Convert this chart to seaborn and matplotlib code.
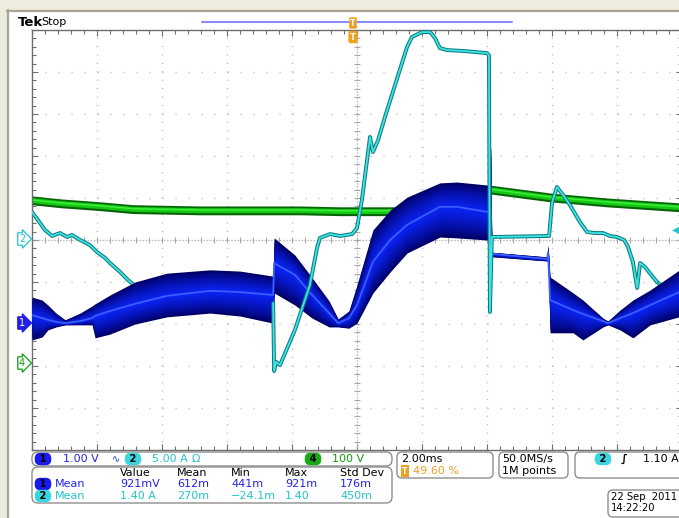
import numpy as np
import matplotlib
matplotlib.use("Agg")
import matplotlib.pyplot as plt
import matplotlib.transforms as mtransforms
from matplotlib.patches import FancyBboxPatch, Rectangle
from matplotlib.lines import Line2D
from matplotlib.ticker import MultipleLocator, NullFormatter
from matplotlib.colors import to_rgb
import seaborn as sns

# ---------------- acquisition settings ----------------
MS_PER_DIV = 2.00
CH1_V_PER_DIV, CH1_OFFSET = 1.00, -2.00     # ground marker 2 div below centre
CH2_A_PER_DIV, CH2_OFFSET = 5.00, 0.00
CH4_V_PER_DIV, CH4_OFFSET = 100.0, -2.93

# ---------------- channel 1 (V): min / mean / max of the rippled trace ----------------
ch1_t = [-10.0, -9.69, -9.51, -9.26, -8.98, -8.52, -8.15, -8.06, -7.60, -6.83, -5.85, -4.52, -3.60, -2.58,
         -2.55, -1.91, -1.38, -0.86, -0.58, -0.25, 0.00, 0.49, 1.02, 1.54, 2.55, 3.08, 4.00, 4.06,
         4.09, 4.12, 4.15, 5.85, 5.88, 5.94, 6.65, 6.95, 7.57, 7.72, 8.09, 8.49, 9.02, 10.0]
ch1_max = [0.64, 0.57, 0.45, 0.26, 0.10, 0.26, 0.43, 0.48, 0.69, 1.00, 1.21, 1.29, 1.26, 1.14,
           2.05, 1.64, 1.10, 0.55, 0.12, 0.31, 0.93, 2.24, 2.71, 3.02, 3.36, 3.38, 3.31, 3.31,
           4.31, 4.14, 1.71, 1.60, 1.88, 1.12, 0.74, 0.57, 0.14, 0.07, 0.33, 0.57, 0.81, 1.33]
ch1_mid = [0.21, 0.14, 0.10, 0.05, 0.02, 0.07, 0.14, 0.19, 0.31, 0.48, 0.67, 0.79, 0.76, 0.69,
           1.45, 1.17, 0.69, 0.26, 0.02, 0.14, 0.45, 1.48, 2.00, 2.36, 2.79, 2.79, 2.67, 2.67,
           2.95, 2.45, 1.67, 1.55, 1.71, 0.57, 0.33, 0.24, 0.07, 0.02, 0.14, 0.26, 0.45, 0.79]
ch1_min = [-0.38, -0.31, -0.14, -0.07, -0.02, -0.02, -0.02, -0.33, -0.24, 0.00, 0.17, 0.26, 0.19, 0.02,
           0.74, 0.45, 0.14, -0.07, -0.07, -0.10, 0.02, 0.74, 1.24, 1.69, 2.07, 2.05, 2.00, 2.00,
           1.64, 1.57, 1.60, 1.50, 1.48, -0.21, -0.21, -0.38, -0.07, -0.02, -0.14, -0.33, -0.02, 0.19]

# ---------------- channel 2 (A): current ----------------
ch2_t = [-10.0, -9.82, -9.60, -9.38, -9.14, -8.92, -8.77, -8.52, -8.22, -8.00, -7.75, -7.60, -7.29, -7.05,
         -6.68, -5.75, -3.91, -2.58,
         -2.55, -2.49, -2.37, -1.91, -1.45, -1.23, -1.14, -0.83, -0.52, -0.15, 0.00, 0.15, 0.31, 0.40,
         0.49, 0.65, 0.86, 1.17, 1.54, 1.69, 2.00, 2.25, 2.40, 2.55, 2.77, 3.32, 4.00, 4.06,
         4.09, 4.15, 5.91, 6.00, 6.15, 6.34, 6.55, 6.86, 7.08, 7.32, 7.57, 7.78, 8.00, 8.22, 8.34,
         8.49, 8.62, 8.71, 8.86, 9.08, 9.23, 9.91]
ch2_amps = [3.33, 2.38, 1.19, 0.48, 0.83, 0.36, 0.60, 0.00, -0.60, -1.43, -2.14, -2.74, -3.81, -4.76,
            -5.95, -7.14, -7.50, -7.50,
            -15.6, -14.5, -14.9, -10.7, -5.36, -0.95, 0.24, 0.71, 0.48, 0.71, 1.43, 4.76, 9.52, 12.26,
            10.47, 11.90, 14.64, 18.45, 22.97, 24.16, 24.75, 24.75, 24.04, 22.85, 22.61, 22.49, 22.25, 22.00,
            -8.57, 0.36, 0.48, 4.40, 6.31, 5.36, 4.17, 2.14, 0.95, 0.83, 0.83, 0.48, 0.36, 0.00, -0.83,
            -2.62, -5.71, -2.74, -3.21, -4.28, -5.00, -7.14]
CH2_HIDDEN_BEFORE, CH2_HIDDEN_AFTER = -2.58, 9.23   # stretches lying under the channel 1 trace

# ---------------- channel 4 (V): bus voltage ----------------
ch4_t = [-10.0, -9.14, -7.91, -6.89, -4.83, -1.75, -0.52, 1.32, 2.25, 3.17, 4.06, 5.94, 7.69, 10.0]
ch4_volts = [388, 381, 374, 367, 364, 364, 362, 362, 376, 398, 414, 395, 383, 371]

# ---------------- readouts ----------------
meas_cols = ["Value", "Mean", "Min", "Max", "Std Dev"]
meas_ch1 = ["921mV", "612m", "441m", "921m", "176m"]
meas_ch2 = ["1.40 A", "270m", "\u221224.1m", "1.40", "450m"]

BLUE_TXT, CYAN_TXT, GREEN_TXT, ORANGE = "#2323e6", "#22c4cc", "#109e10", "#f0a020"

sns.set_theme(style="white")
plt.rcParams["font.family"] = ["DejaVu Sans"]
plt.rcParams["lines.scale_dashes"] = False

W, H = 679, 518
fig = plt.figure(figsize=(W / 100, H / 100), dpi=100)
fig.patch.set_facecolor("white")
pxT = mtransforms.Affine2D().scale(1, -1).translate(0, H)   # pixel coords, origin top-left

# window frame
fig.add_artist(Rectangle((0, 0), W, 10, transform=pxT, fc="#eeebdf", ec="none"))
fig.add_artist(Rectangle((0, 0), 7, H, transform=pxT, fc="#eeebdf", ec="none"))
fig.add_artist(Line2D([7, W], [10.5, 10.5], transform=pxT, color="#a8a692", lw=1.6))
fig.add_artist(Line2D([7.5, 7.5], [10, H], transform=pxT, color="#a8a692", lw=1.6))

ax = fig.add_axes([32 / W, 1 - 450 / H, 650 / W, 420 / H])
ax.set_xlim(-5 * MS_PER_DIV, 5 * MS_PER_DIV)
ax.set_ylim(-5, 5)
ax.set_facecolor("white")

# graticule
grid_c = "#b9b9b9"
for xv in np.arange(-8, 10, 2):
    if xv != 0:
        ax.axvline(xv, color=grid_c, lw=1.0, ls=(0, (0.8, 5.25)), zorder=0.5)
for yv in range(-4, 5):
    if yv != 0:
        ax.axhline(yv, color=grid_c, lw=1.0, ls=(0, (0.8, 8.56)), zorder=0.5)
ax.axhline(0, color="#bdbdbd", lw=0.9, ls=(0, (1.2, 1.0)), zorder=0.6)
ax.axvline(0, color="#bdbdbd", lw=0.9, ls=(0, (1.2, 1.0)), zorder=0.6)
mx = np.arange(-9.6, 10, 0.4)
my = np.arange(-4.8, 5, 0.2)
ax.plot(mx, np.zeros_like(mx), ls="none", marker="|", ms=5, mew=0.8, color="#a8a8a8", zorder=0.7)
ax.plot(np.zeros_like(my), my, ls="none", marker="_", ms=5, mew=0.8, color="#a8a8a8", zorder=0.7)

for s in ax.spines.values():
    s.set_color("#6e6e6e")
    s.set_linewidth(1.0)
ax.xaxis.set_major_locator(MultipleLocator(2))
ax.xaxis.set_minor_locator(MultipleLocator(0.4))
ax.yaxis.set_major_locator(MultipleLocator(1))
ax.yaxis.set_minor_locator(MultipleLocator(0.2))
ax.xaxis.set_major_formatter(NullFormatter())
ax.yaxis.set_major_formatter(NullFormatter())
ax.tick_params(which="both", direction="in", top=True, right=True, bottom=True, left=True,
               color="#6e6e6e", width=0.8, labelbottom=False, labelleft=False)
ax.tick_params(which="major", length=4)
ax.tick_params(which="minor", length=3)
ax.set_xlabel("")
ax.set_ylabel("")

# ---- channel 4 (green) ----
t4 = np.array(ch4_t)
d4 = np.array(ch4_volts) / CH4_V_PER_DIV + CH4_OFFSET
ax.fill_between(t4, d4 - 0.11, d4 + 0.10, color="#056405", lw=0, zorder=2)
ax.fill_between(t4, d4 - 0.06, d4 + 0.06, color="#14c814", lw=0, zorder=2.1)
sns.lineplot(x=t4, y=d4 + 0.005, ax=ax, color="#40f040", lw=1.0, estimator=None, sort=False,
             legend=False, zorder=2.2)

# ---- channel 2 (cyan) ----
t2 = np.array(ch2_t)
d2 = np.array(ch2_amps) / CH2_A_PER_DIV + CH2_OFFSET
pieces = [(t2 <= CH2_HIDDEN_BEFORE, 2.5),
          ((t2 >= CH2_HIDDEN_BEFORE) & (t2 <= CH2_HIDDEN_AFTER), 5),
          (t2 >= CH2_HIDDEN_AFTER, 2.5)]
for mask, z in pieces:
    sns.lineplot(x=t2[mask], y=d2[mask], ax=ax, color="#0a7c80", lw=2.8, estimator=None,
                 sort=False, legend=False, zorder=z)
    sns.lineplot(x=t2[mask], y=d2[mask], ax=ax, color="#3fe2e2", lw=1.3, estimator=None,
                 sort=False, legend=False, zorder=z + 0.05)

# ---- channel 1 (blue): intensity-graded envelope ----
t1 = np.array(ch1_t)
hi = np.array(ch1_max) / CH1_V_PER_DIV + CH1_OFFSET
md = np.array(ch1_mid) / CH1_V_PER_DIV + CH1_OFFSET
lo = np.array(ch1_min) / CH1_V_PER_DIV + CH1_OFFSET
edge_c, core_c = np.array(to_rgb("#000068")), np.array(to_rgb("#0a22f0"))
fracs = np.linspace(1.0, 0.1, 10)
for i, frac in enumerate(fracs):
    col = edge_c + (core_c - edge_c) * (i / (len(fracs) - 1)) ** 0.8
    ax.fill_between(t1, md - frac * (md - lo), md + frac * (hi - md), color=col, lw=0,
                    zorder=3 + 0.01 * i)
sns.lineplot(x=t1, y=md, ax=ax, color="#3c5cff", lw=1.3, estimator=None, sort=False,
             legend=False, zorder=3.3)

# ---------------- screen annotations ----------------
def txt(x, y, s, color="black", size=8, **kw):
    kw.setdefault("ha", "left")
    kw.setdefault("va", "center")
    return fig.text(x, y, s, transform=pxT, color=color, fontsize=size, **kw)

def pill(x, y, s, fc):
    txt(x, y, s, "black", 7.2, ha="center", fontweight="bold",
        bbox=dict(boxstyle="round,pad=0.12,rounding_size=0.55", fc=fc, ec="none"))

def box(x, y, w, h, r=5):
    fig.add_artist(FancyBboxPatch((x, y), w, h, boxstyle=f"round,pad=0,rounding_size={r}",
                                  transform=pxT, fc="white", ec="#8e8e8e", lw=1.0))

txt(18, 22, "Tek", size=9.5, fontweight="bold")
txt(41, 22, "Stop", size=8)
fig.add_artist(Line2D([202, 512], [22, 22], transform=pxT, color="#8c8cff", lw=1.5))
txt(353, 23, "T", "white", 5.5, ha="center", fontweight="bold",
    bbox=dict(boxstyle="round,pad=0.15", fc=ORANGE, ec="none"))
txt(353, 37, "T", "white", 6, ha="center", fontweight="bold",
    bbox=dict(boxstyle="round,pad=0.2", fc=ORANGE, ec="none"))

# channel ground markers
txt(22, 239, "2", CYAN_TXT, 7, ha="center",
    bbox=dict(boxstyle="rarrow,pad=0.12", fc="white", ec=CYAN_TXT, lw=0.9))
txt(22, 323, "1", "white", 7, ha="center",
    bbox=dict(boxstyle="rarrow,pad=0.12", fc="#2020e8", ec="#2020e8", lw=0.9))
txt(22, 363, "4", GREEN_TXT, 7, ha="center",
    bbox=dict(boxstyle="rarrow,pad=0.12", fc="white", ec=GREEN_TXT, lw=0.9))
txt(676, 230, "\u25c0", CYAN_TXT, 7, ha="center")

# vertical settings bar
box(32, 452, 360, 14, r=6)
pill(43, 459, " 1 ", "#1a1af0")
txt(63, 459, "1.00 V", BLUE_TXT)
txt(112, 459, "\u223f", BLUE_TXT, 7)
pill(133, 459, " 2 ", "#3ad6e0")
txt(152, 459, "5.00 A", CYAN_TXT)
txt(192, 459, "\u03a9", CYAN_TXT)
pill(313, 459, " 4 ", "#18a818")
txt(332, 459, "100 V", GREEN_TXT)

# measurements
box(32, 467, 360, 36, r=6)
col_x = [120, 177, 231, 285, 340]
for cx, head in zip(col_x, meas_cols):
    txt(cx, 473, head)
pill(43, 484, " 1 ", "#1a1af0")
txt(55, 484, "Mean", BLUE_TXT)
pill(43, 496, " 2 ", "#3ad6e0")
txt(55, 496, "Mean", CYAN_TXT)
for cx, v1, v2 in zip(col_x, meas_ch1, meas_ch2):
    txt(cx, 484, v1, BLUE_TXT)
    txt(cx, 496, v2, CYAN_TXT)

# horizontal / acquisition / trigger
box(397, 452, 96, 26)
txt(401, 459, "2.00ms")
txt(405, 471, "T", "white", 5.5, ha="center", fontweight="bold",
    bbox=dict(boxstyle="square,pad=0.15", fc=ORANGE, ec="none"))
txt(413, 471, "49.60 %", ORANGE)
box(499, 452, 69, 26)
txt(502, 459, "50.0MS/s")
txt(502, 471, "1M points")
box(575, 452, 110, 26)
pill(603, 459, " 2 ", "#3ad6e0")
txt(624, 459, "\u222b", size=8, fontweight="bold", ha="center")
txt(643, 459, "1.10 A")
box(608, 490, 80, 27)
txt(611, 497, "22 Sep  2011", size=7.2)
txt(611, 508, "14:22:20", size=7.2)

fig.savefig("out.png", dpi=100, facecolor="white")
